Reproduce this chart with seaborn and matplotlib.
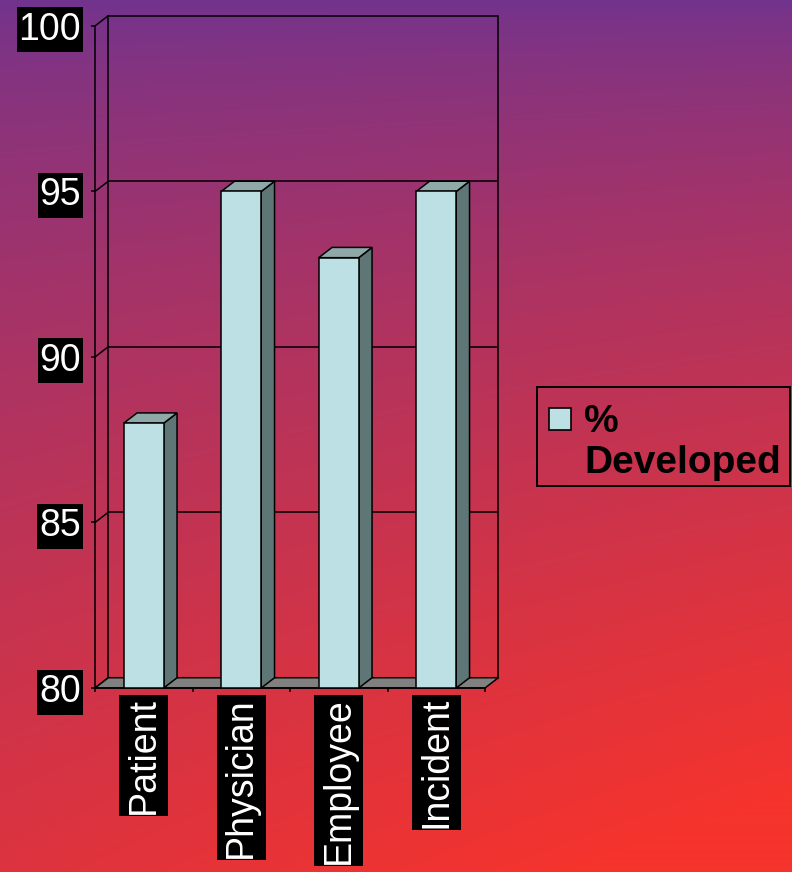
import numpy as np
import pandas as pd
import matplotlib
matplotlib.use("Agg")
import matplotlib.pyplot as plt
from matplotlib.patches import Polygon, Rectangle
from matplotlib.path import Path
import seaborn as sns

# ---- data ----
categories = ["Patient", "Physician", "Employee", "Incident"]
values = [88, 95, 93, 95]
series_name = "%\nDeveloped"
y_ticks = [80, 85, 90, 95, 100]

sns.set_theme(style="white")
plt.rcParams['font.family'] = ['Liberation Sans', 'DejaVu Sans']

W, H = 792, 872
FS = 27
fig = plt.figure(figsize=(W / 100, H / 100), dpi=100)

# ---- gradient background ----
bg = fig.add_axes([0, 0, 1, 1], zorder=-10)
yy, xx = np.mgrid[0:1:H * 1j, 0:1:W * 1j]
t = np.clip(yy * (0.75 + 0.35 * xx), 0, 1) ** 0.7
c0 = np.array([112, 51, 143]) / 255
c1 = np.array([245, 52, 45]) / 255
img = c0[None, None, :] * (1 - t[..., None]) + c1[None, None, :] * t[..., None]
bg.imshow(img, aspect='auto', extent=[0, 1, 0, 1], origin='upper')
bg.axis('off')

# ---- main axes (front plane) ----
ax = fig.add_axes([95 / W, (H - 688) / H, (498.3 - 95) / W, (688 - 15.7) / H])
ax.set_facecolor('none')
DX, DY = 0.1364, 0.31
BW = 0.41
lw = 1.1
face = '#BCE0E3'
side = '#5F7676'
topc = '#8FA9A9'
floorc = '#808080'

df = pd.DataFrame({"category": categories, "value": values})
sns.barplot(data=df, x="category", y="value", color=face, width=BW,
            edgecolor='black', linewidth=lw, saturation=1, ax=ax, zorder=5)

ax.set_xlim(-0.5, 3.5 + DX)
ax.set_ylim(y_ticks[0], y_ticks[-1] + DY)
ymin, ymax = y_ticks[0], y_ticks[-1]
n = len(categories)
x0, x1 = -0.5, n - 0.5

# floor
ax.add_patch(Polygon([(x0, ymin), (x1, ymin), (x1 + DX, ymin + DY), (x0 + DX, ymin + DY)],
                     closed=True, fc=floorc, ec='black', lw=lw, zorder=2, clip_on=False))
# back wall grid + left wall diagonals
for yv in y_ticks:
    ax.plot([x0 + DX, x1 + DX], [yv + DY, yv + DY], color='black', lw=lw, zorder=1, clip_on=False)
    ax.plot([x0, x0 + DX], [yv, yv + DY], color='black', lw=lw, zorder=1, clip_on=False)
ax.plot([x0 + DX, x0 + DX], [ymin + DY, ymax + DY], color='black', lw=lw, zorder=1, clip_on=False)
ax.plot([x1 + DX, x1 + DX], [ymin + DY, ymax + DY], color='black', lw=lw, zorder=1, clip_on=False)
# front axis line
ax.plot([x0, x0], [ymin, ymax], color='black', lw=lw, zorder=3, clip_on=False)

# 3D sides and tops of bars
for i, v in enumerate(values):
    l, r = i - BW / 2, i + BW / 2
    ax.add_patch(Polygon([(r, ymin), (r, v), (r + DX, v + DY), (r + DX, ymin + DY)],
                         closed=True, fc=side, ec='black', lw=lw, zorder=4, clip_on=False))
    ax.add_patch(Polygon([(l, v), (r, v), (r + DX, v + DY), (l + DX, v + DY)],
                         closed=True, fc=topc, ec='black', lw=lw, zorder=4, clip_on=False))
ax.plot([x0, x1], [ymin, ymin], color='black', lw=lw, zorder=6, clip_on=False)

for s in ax.spines.values():
    s.set_visible(False)


def make_box(padx, pady):
    def box(x0, y0, width, height, mutation_size):
        px = padx * mutation_size
        py = pady * mutation_size
        verts = [(x0 - px, y0 - py), (x0 + width + px, y0 - py),
                 (x0 + width + px, y0 + height + py), (x0 - px, y0 + height + py),
                 (x0 - px, y0 - py)]
        codes = [Path.MOVETO, Path.LINETO, Path.LINETO, Path.LINETO, Path.CLOSEPOLY]
        return Path(verts, codes)
    return box


ax.set_xlabel('')
ax.set_ylabel('')
ax.set_yticks(y_ticks)
ax.set_yticklabels([str(v) for v in y_ticks])
ax.tick_params(axis='y', left=True, length=3, width=lw, color='black', direction='out',
               pad=7, labelsize=FS, labelcolor='white')
ax.set_xticks(range(n))
ax.set_xticklabels(categories, rotation=90)
ax.set_xticks(np.arange(n + 1) - 0.5, minor=True)
ax.tick_params(axis='x', which='major', bottom=True, length=0, pad=6.5, labelsize=FS, labelcolor='white')
ax.tick_params(axis='x', which='minor', bottom=True, length=3, width=lw, color='black', direction='out')
for lab in ax.get_yticklabels():
    lab.set_bbox(dict(boxstyle=make_box(0.05, 0.12), fc='black', ec='none'))
for lab in ax.get_xticklabels():
    lab.set_bbox(dict(boxstyle=make_box(0.05, 0.17), fc='black', ec='none'))

# ---- legend ----
fig.add_artist(Rectangle((537 / W, 1 - 486 / H), 253 / W, 99 / H, transform=fig.transFigure,
                         fill=False, ec='black', lw=1.4))
fig.add_artist(Rectangle((549 / W, 1 - 430 / H), 22 / W, 22 / H, transform=fig.transFigure,
                         fc=face, ec='black', lw=1.2))
lines = series_name.split("\n")
fig.text(584 / W, 1 - 432 / H, lines[0], fontsize=28, fontweight='bold', color='black', va='baseline')
fig.text(584 / W, 1 - 473 / H, lines[1], fontsize=28, fontweight='bold', color='black', va='baseline')

fig.savefig("out.png", dpi=100)
